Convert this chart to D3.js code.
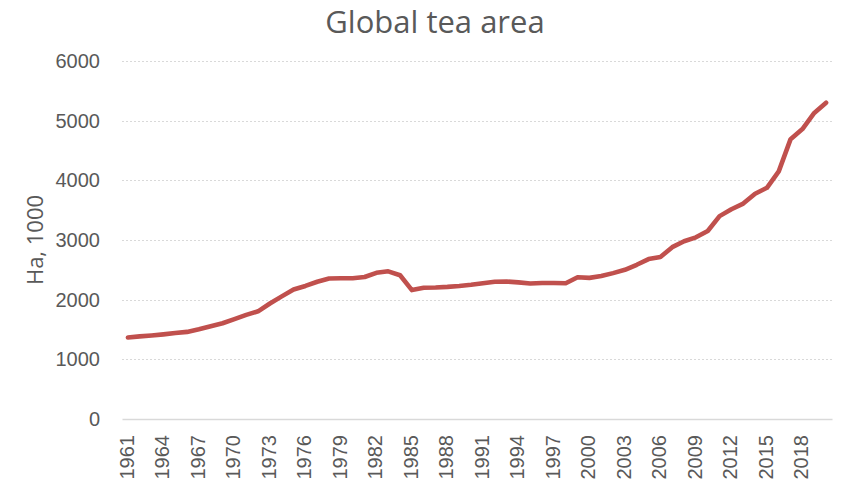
<!DOCTYPE html>
<html>
<head>
<meta charset="utf-8">
<script src="https://cdn.jsdelivr.net/npm/d3@7"></script>
<style>
  html, body { margin: 0; padding: 0; background: #fff; }
  svg { display: block; font-family: "Open Sans", "Liberation Sans", sans-serif; }
</style>
</head>
<body>
<svg id="chart" width="854" height="482"></svg>
<script>
// Global tea harvested area, thousand hectares, 1961–2020
const years = d3.range(1961, 2021);
const areaHa1000 = [
  1365, 1385, 1400, 1418, 1440, 1460, 1505, 1555, 1605, 1675,
  1745, 1805, 1935, 2055, 2170, 2230, 2300, 2355, 2360, 2360,
  2380, 2450, 2475, 2410, 2160, 2200, 2205, 2215, 2230, 2250,
  2275, 2300, 2305, 2290, 2270, 2280, 2280, 2275, 2375, 2365,
  2395, 2445, 2500, 2585, 2680, 2715, 2880, 2980, 3045, 3150,
  3400, 3515, 3610, 3775, 3875, 4150, 4690, 4860, 5130, 5300
];
const yTicks = [0, 1000, 2000, 3000, 4000, 5000, 6000];
const xTickYears = d3.range(1961, 2021, 3);
const titleText = "Global tea area";
const yTitle = "Ha, 1000";

const W = 854, H = 482;
const m = { left: 122, right: 22, top: 61, bottom: 63 };
const svg = d3.select("#chart");
const textColor = "#595959";

const x = d3.scaleBand().domain(years).range([m.left, W - m.right]);
const y = d3.scaleLinear().domain([0, 6000]).range([H - m.bottom, m.top]);

// Horizontal dotted gridlines
svg.append("g")
  .selectAll("line")
  .data(yTicks.filter(d => d > 0))
  .join("line")
  .attr("x1", m.left).attr("x2", W - m.right)
  .attr("y1", d => Math.round(y(d)) + 0.5).attr("y2", d => Math.round(y(d)) + 0.5)
  .attr("stroke", "#d9d9d9").attr("stroke-width", 1.2)
  .attr("stroke-dasharray", "2,2");

// Y axis labels
const yAxis = svg.append("g")
  .attr("transform", `translate(${m.left},0)`)
  .call(d3.axisLeft(y).tickValues(yTicks).tickSize(0).tickPadding(22).tickFormat(d3.format("d")));
yAxis.select(".domain").remove();
yAxis.selectAll("text")
  .attr("fill", textColor).style("font-size", "20px");

// X axis: category axis with rotated year labels
const xAxis = svg.append("g")
  .attr("transform", `translate(0,${H - m.bottom})`)
  .call(d3.axisBottom(x).tickValues(xTickYears).tickSize(0).tickPadding(0));
xAxis.select(".domain").attr("stroke", "#d9d9d9").attr("stroke-width", 1.3);
xAxis.selectAll("text")
  .attr("fill", textColor).style("font-size", "20px")
  .attr("transform", "rotate(-90)")
  .attr("text-anchor", "end")
  .attr("x", -16).attr("y", -1).attr("dy", "0.35em");

// Data line
const line = d3.line()
  .x((d, i) => x(years[i]) + x.bandwidth() / 2)
  .y(d => y(d));
svg.append("path")
  .datum(areaHa1000)
  .attr("d", line)
  .attr("fill", "none")
  .attr("stroke", "#c0504d")
  .attr("stroke-width", 4.6)
  .attr("stroke-linejoin", "round")
  .attr("stroke-linecap", "round");

// Title
svg.append("text")
  .attr("x", 435).attr("y", 33)
  .attr("text-anchor", "middle")
  .attr("fill", textColor)
  .style("font-size", "31px")
  .text(titleText);

// Y axis title
svg.append("text")
  .attr("transform", `translate(43,${(m.top + H - m.bottom) / 2}) rotate(-90)`)
  .attr("text-anchor", "middle")
  .attr("fill", textColor)
  .style("font-size", "22px")
  .text(yTitle);
</script>
</body>
</html>
